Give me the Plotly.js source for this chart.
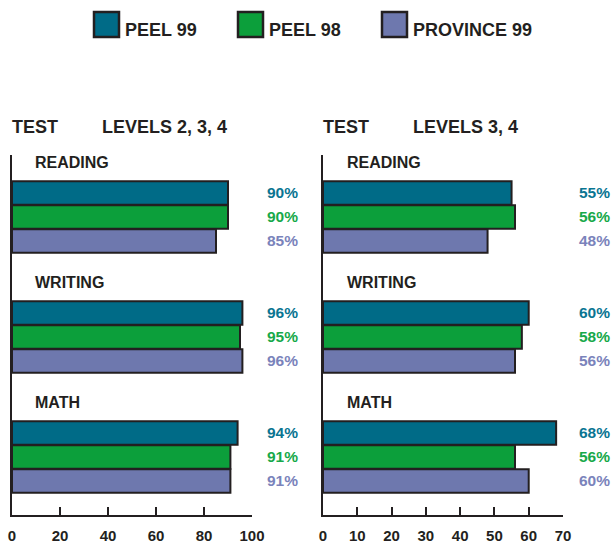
<!DOCTYPE html>
<html>
<head>
<meta charset="utf-8">
<script src="https://cdn.plot.ly/plotly-3.0.1.min.js"></script>
<style>html,body{margin:0;padding:0;background:#fff}#chart{width:615px;height:543px}</style>
</head>
<body>
<div id="chart"></div>
<script>
const subjects = ["READING", "WRITING", "MATH"];
const seriesNames = ["PEEL 99", "PEEL 98", "PROVINCE 99"];
// Levels 2, 3, 4 (left panel)
const levels234 = {
  "PEEL 99": [90, 96, 94],
  "PEEL 98": [90, 95, 91],
  "PROVINCE 99": [85, 96, 91]
};
// Levels 3, 4 (right panel)
const levels34 = {
  "PEEL 99": [55, 60, 68],
  "PEEL 98": [56, 58, 56],
  "PROVINCE 99": [48, 56, 60]
};
const leftTicks = [0, 20, 40, 60, 80, 100];
const rightTicks = [0, 10, 20, 30, 40, 50, 60, 70];
const panelTitles = [["TEST", "LEVELS 2, 3, 4"], ["TEST", "LEVELS 3, 4"]];

const fillColors = ["#006B87", "#0C9F3B", "#6E78AE"];
const textColors = ["#0A7592", "#17A94A", "#7A83BB"];
const ink = "#231F20";
const FONT = "Liberation Sans, Arial, sans-serif";
const W = 615, H = 543;
const px = v => v / W;
const py = v => 1 - v / H;

// vertical layout: each subject occupies 5 slots; label at slot 0, bars at slots 1.25..3.25
const barPos = (g, s) => g * 5 + 1.25 + s;

const traces = [];
const annotations = [];
const shapes = [];

function addPanel(data, xa, ya, labelX, pctX) {
  seriesNames.forEach((name, s) => {
    traces.push({
      type: "bar",
      orientation: "h",
      name: name,
      x: data[name],
      y: subjects.map((_, g) => barPos(g, s)),
      width: 0.98,
      xaxis: xa, yaxis: ya,
      marker: {color: fillColors[s], line: {color: ink, width: 2}},
      showlegend: false,
      hoverinfo: "x"
    });
    subjects.forEach((sub, g) => {
      annotations.push({
        xref: "paper", yref: ya, x: px(pctX), y: barPos(g, s),
        xanchor: "right", yanchor: "middle", showarrow: false,
        text: data[name][g] + "%",
        font: {family: FONT, size: 15.5, color: textColors[s], weight: "bold"}
      });
    });
  });
  subjects.forEach((sub, g) => {
    annotations.push({
      xref: "paper", yref: ya, x: px(labelX), y: g * 5,
      xanchor: "left", yanchor: "middle", showarrow: false,
      text: sub,
      font: {family: FONT, size: 16, color: ink, weight: "bold"}
    });
  });
}

addPanel(levels234, "x", "y", 33, 300);
addPanel(levels34, "x2", "y2", 345, 612);

// panel headers
[[10, 100], [321, 411]].forEach((xs, i) => {
  panelTitles[i].forEach((t, j) => {
    annotations.push({
      xref: "paper", yref: "paper", x: px(xs[j]), y: py(127),
      xanchor: "left", yanchor: "middle", showarrow: false, text: t,
      font: {family: FONT, size: 18, color: ink, weight: "bold"}
    });
  });
});

// legend
const legendBoxX = [94, 238, 382];
seriesNames.forEach((name, s) => {
  const x0 = legendBoxX[s];
  shapes.push({
    type: "rect", xref: "paper", yref: "paper",
    x0: px(x0), x1: px(x0 + 25), y0: py(37), y1: py(12),
    fillcolor: fillColors[s], line: {color: ink, width: 2.5}
  });
  annotations.push({
    xref: "paper", yref: "paper", x: px(x0 + 29), y: py(30),
    xanchor: "left", yanchor: "middle", showarrow: false, text: name,
    font: {family: FONT, size: 18, color: ink, weight: "bold"}
  });
});

const xCommon = {
  showgrid: false, zeroline: false, showline: true, linecolor: ink, linewidth: 2,
  ticks: "inside", ticklen: 8, tickwidth: 2, tickcolor: ink,
  ticklabelstandoff: 6,
  tickfont: {family: FONT, size: 15, color: ink, weight: "bold"},
  fixedrange: true
};
const yCommon = {
  showgrid: false, zeroline: false, showline: true, linecolor: ink, linewidth: 2,
  showticklabels: false, ticks: "", range: [14.667, -0.333], fixedrange: true
};

const layout = {
  width: W, height: H,
  margin: {l: 0, r: 0, t: 0, b: 0},
  paper_bgcolor: "#fff", plot_bgcolor: "#fff",
  showlegend: false,
  bargap: 0,
  xaxis: Object.assign({}, xCommon, {domain: [px(12), px(252)], range: [0, 100], tickvals: leftTicks, anchor: "y"}),
  yaxis: Object.assign({}, yCommon, {domain: [py(515), py(155)], anchor: "x"}),
  xaxis2: Object.assign({}, xCommon, {domain: [px(323), px(563)], range: [0, 70], tickvals: rightTicks, anchor: "y2"}),
  yaxis2: Object.assign({}, yCommon, {domain: [py(515), py(155)], anchor: "x2"}),
  annotations: annotations,
  shapes: shapes
};

Plotly.newPlot("chart", traces, layout, {displayModeBar: false, staticPlot: true});
</script>
</body>
</html>
